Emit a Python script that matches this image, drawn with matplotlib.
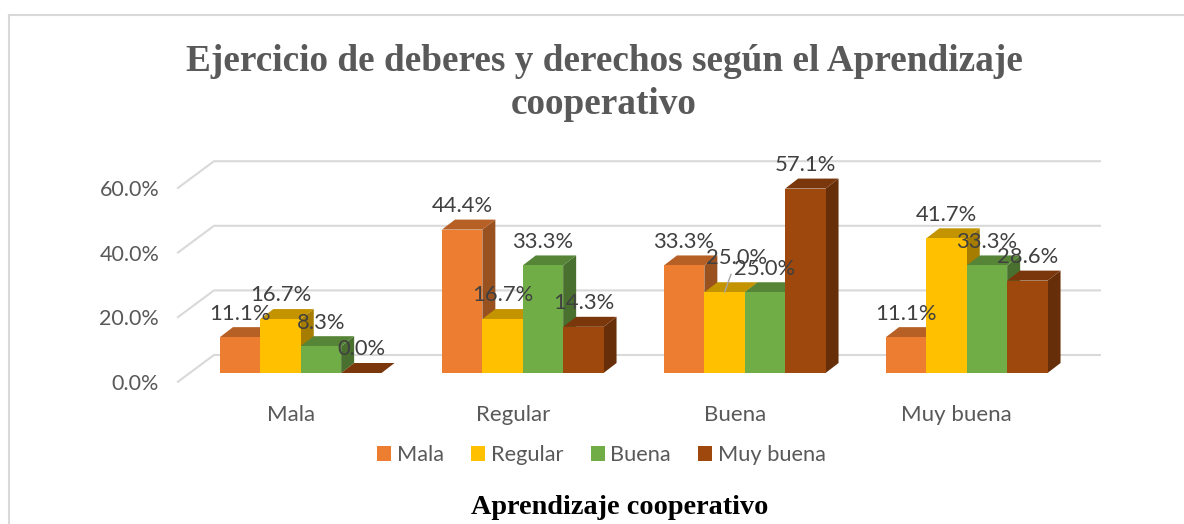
import numpy as np
import matplotlib
matplotlib.use("Agg")
import matplotlib.pyplot as plt
from matplotlib.patches import Polygon, Patch
from matplotlib.lines import Line2D
from matplotlib.colors import to_rgb

# datos
categorias = ["Mala", "Regular", "Buena", "Muy buena"]
mala = [11.1, 44.4, 33.3, 11.1]
regular = [16.7, 16.7, 25.0, 41.7]
buena = [8.3, 33.3, 25.0, 33.3]
muy_buena = [0.0, 14.3, 57.1, 28.6]
ticks_y = [0, 20, 40, 60]

series = [mala, regular, buena, muy_buena]
nombres = ["Mala", "Regular", "Buena", "Muy buena"]
colores = ["#ED7D31", "#FFC000", "#70AD47", "#9E480E"]

W, H = 1184, 524
fig = plt.figure(figsize=(W / 100, H / 100), dpi=100, facecolor="white")

# escala en pixeles
px_x = 222.0
px_y = 3.23
x0 = 300.75
y0 = 373.0
xlim = (-0.6, 3.7)
ylim = (-10, 70)
left = x0 + xlim[0] * px_x
right = x0 + xlim[1] * px_x
top = y0 - ylim[1] * px_y
bottom = y0 - ylim[0] * px_y
ax = fig.add_axes([left / W, 1 - bottom / H, (right - left) / W, (bottom - top) / H])
ax.set_xlim(*xlim)
ax.set_ylim(*ylim)
for s in ax.spines.values():
    s.set_visible(False)

# pared del fondo
gris = "#D9D9D9"
fx, fy = -0.553, -2.7
bx, by = -0.391, 5.57
xr = 3.6
for t in ticks_y:
    ax.plot([fx, bx, xr], [t + fy, t + by, t + by], color=gris, lw=1.5, zorder=1,
            solid_joinstyle="miter")

# barras en 3D falso
ancho = 40.4 / px_x
dx = 13 / px_x
dy = 10 / px_y
x = np.arange(len(categorias))
z = 2
for k, (vals, col) in enumerate(zip(series, colores)):
    rgb = np.array(to_rgb(col))
    for i, v in enumerate(vals):
        xa = x[i] + (k - 2) * ancho
        xb = xa + ancho
        ax.add_patch(Polygon([(xb, 0), (xb + dx, dy), (xb + dx, v + dy), (xb, v)],
                             facecolor=rgb * 0.65, edgecolor="none", zorder=z))
        ax.add_patch(Polygon([(xa, v), (xb, v), (xb + dx, v + dy), (xa + dx, v + dy)],
                             facecolor=rgb * 0.77, edgecolor="none", zorder=z))
        ax.bar(xa, v, width=ancho, align="edge", color=col, edgecolor="none", zorder=z + 0.5)
        z += 1

# etiquetas de datos
for k, vals in enumerate(series):
    for i, v in enumerate(vals):
        xc = x[i] + (k - 1.5) * ancho
        if k == 1 and i == 2:
            # la unica etiqueta movida, con linea guia
            ax.annotate(f"{v:.1f}%", (xc, v), xytext=(9, 25), textcoords="offset points",
                        ha="center", va="center", fontsize=15.8, color="#404040",
                        family="Lato", zorder=200,
                        arrowprops=dict(arrowstyle="-", color="#A6A6A6", lw=1, shrinkA=3, shrinkB=0))
        else:
            ax.annotate(f"{v:.1f}%", (xc, v), xytext=(0, 17), textcoords="offset points",
                        ha="center", va="center", fontsize=15.8, color="#404040",
                        family="Lato", zorder=200)

# ejes
ax.set_yticks([t + fy for t in ticks_y])
ax.set_yticklabels([f"{t:.1f}%" for t in ticks_y], family="Lato", fontsize=15.5, color="#595959")
ax.set_xticks(x - 0.045)
ax.set_xticklabels(categorias, family="Lato", fontsize=16, color="#595959")
ax.tick_params(axis="both", length=0)
ax.tick_params(axis="y", pad=6)
ax.tick_params(axis="x", pad=0)

# leyenda
handles = [Patch(facecolor=c, edgecolor="none", label=n) for c, n in zip(colores, nombres)]
fig.legend(handles=handles, loc="center", bbox_to_anchor=(601.5 / W, 1 - 455 / H), ncol=4, frameon=False,
           prop={"family": "Lato", "size": 15.7}, labelcolor="#595959", handlelength=0.64,
           handleheight=0.64, handletextpad=0.27, columnspacing=1.25)

# titulos
fig.text(604 / W, 1 - 83 / H, "Ejercicio de deberes y derechos según el Aprendizaje\ncooperativo",
         ha="center", va="center", family="Liberation Serif", fontweight="bold", fontsize=26.8,
         color="#595959", linespacing=1.27)
fig.text(620 / W, 1 - 507 / H, "Aprendizaje cooperativo", ha="center", va="center",
         family="Liberation Serif", fontweight="bold", fontsize=20.3, color="black")

# marco
fig.add_artist(Line2D([9 / W, 9 / W], [0, 1 - 15 / H], color=gris, lw=1.5))
fig.add_artist(Line2D([9 / W, 1], [1 - 15 / H, 1 - 15 / H], color=gris, lw=1.5))

plt.savefig("out.png", dpi=100)
